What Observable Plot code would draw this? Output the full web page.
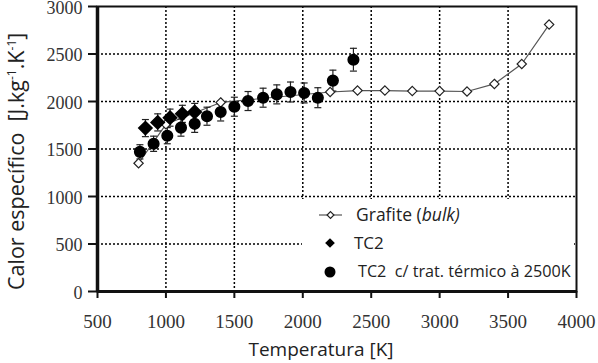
<!DOCTYPE html>
<html>
<head>
<meta charset="utf-8">
<script src="https://cdn.jsdelivr.net/npm/d3@7"></script>
<script src="https://cdn.jsdelivr.net/npm/@observablehq/plot@0.6"></script>
<style>
  html, body { margin: 0; padding: 0; background: #fff; }
  #chart svg { display: block; }
</style>
</head>
<body>
<div id="chart"></div>
<script>
// Grafite (bulk): open diamonds joined by a line
const tGrafite = [800, 1000, 1400, 2200, 2400, 2600, 2800, 3000, 3200, 3400, 3600, 3800];
const cpGrafite = [1350, 1760, 1990, 2100, 2115, 2115, 2110, 2110, 2105, 2185, 2395, 2810];

// TC2: filled diamonds with error bars
const tTC2 = [850, 940, 1030, 1120, 1210];
const cpTC2 = [1720, 1780, 1830, 1870, 1890];
const errTC2 = [90, 90, 90, 90, 90];

// TC2 heat treated at 2500 K: filled circles with error bars
const tTT = [810, 910, 1010, 1110, 1210, 1300, 1400, 1500, 1600, 1710, 1810, 1910, 2010, 2110, 2220, 2370];
const cpTT = [1470, 1555, 1640, 1725, 1765, 1845, 1890, 1945, 2005, 2040, 2075, 2100, 2090, 2040, 2220, 2440];
const errTT = [75, 80, 85, 90, 90, 95, 95, 100, 100, 100, 100, 105, 105, 105, 110, 120];

const xTicks = [500, 1000, 1500, 2000, 2500, 3000, 3500, 4000];
const yTicks = [0, 500, 1000, 1500, 2000, 2500, 3000];
const xGrid = [1000, 1500, 2000, 2500, 3000, 3500];
const yGrid = [500, 1000, 1500, 2000, 2500];

const grafite = tGrafite.map((t, i) => ({t, cp: cpGrafite[i]}));
const tc2 = tTC2.map((t, i) => ({t, cp: cpTC2[i], lo: cpTC2[i] - errTC2[i], hi: cpTC2[i] + errTC2[i]}));
const tt = tTT.map((t, i) => ({t, cp: cpTT[i], lo: cpTT[i] - errTT[i], hi: cpTT[i] + errTT[i]}));

// short horizontal stroke used as error-bar cap
const cap = {draw(ctx) { ctx.moveTo(-3.5, 0); ctx.lineTo(3.5, 0); }};

const serif = "Liberation Serif";
const sans = "'Open Sans', 'Noto Sans', sans-serif";

const plot = Plot.plot({
  width: 598,
  height: 363,
  marginLeft: 97,
  marginRight: 22,
  marginTop: 6,
  marginBottom: 72,
  style: {background: "#fff"},
  x: {domain: [500, 4000]},
  y: {domain: [0, 3000]},
  marks: [
    Plot.gridX(xGrid, {stroke: "#000", strokeOpacity: 1, strokeWidth: 1.5, strokeDasharray: "2,2"}),
    Plot.gridY(yGrid, {stroke: "#000", strokeOpacity: 1, strokeWidth: 1.5, strokeDasharray: "2,2"}),
    // tick marks only; numbers are drawn below in a serif face
    Plot.axisX({ticks: xTicks, tickSize: 7, label: null, text: null, stroke: "#111", strokeWidth: 2}),
    Plot.axisY({ticks: yTicks, tickSize: 9, label: null, text: null, stroke: "#111", strokeWidth: 2}),
    Plot.text(xTicks, {x: d => d, y: 0, dy: 30, text: d => String(d), fontFamily: serif, fontSize: 19, fill: "#333",
      textAnchor: "middle", lineAnchor: "middle", clip: false}),
    Plot.text(yTicks, {x: 500, y: d => d, dx: -15, dy: 1.5, text: d => String(d), fontFamily: serif, fontSize: 18, fill: "#333",
      textAnchor: "end", lineAnchor: "middle", clip: false}),
    // Grafite line
    Plot.line(grafite, {x: "t", y: "cp", stroke: "#555", strokeWidth: 1.2}),
    // error bars
    Plot.ruleX(tc2, {x: "t", y1: "lo", y2: "hi", stroke: "#222", strokeWidth: 1.2}),
    Plot.dot(tc2, {x: "t", y: "lo", symbol: cap, stroke: "#222", strokeWidth: 1.2, r: 3}),
    Plot.dot(tc2, {x: "t", y: "hi", symbol: cap, stroke: "#222", strokeWidth: 1.2, r: 3}),
    Plot.ruleX(tt, {x: "t", y1: "lo", y2: "hi", stroke: "#222", strokeWidth: 1.2}),
    Plot.dot(tt, {x: "t", y: "lo", symbol: cap, stroke: "#222", strokeWidth: 1.2, r: 3}),
    Plot.dot(tt, {x: "t", y: "hi", symbol: cap, stroke: "#222", strokeWidth: 1.2, r: 3}),
    // markers
    Plot.dot(grafite, {x: "t", y: "cp", symbol: "diamond2", r: 4.2, fill: "#fff", stroke: "#222", strokeWidth: 1.2}),
    Plot.dot(tc2, {x: "t", y: "cp", symbol: "diamond2", r: 6, fill: "#000", stroke: "#000"}),
    Plot.dot(tt, {x: "t", y: "cp", symbol: "circle", r: 5.3, fill: "#000", stroke: "#000"}),
    // frame: thin top/right, heavy left/bottom
    Plot.frame({stroke: "#111", strokeWidth: 2}),
    Plot.ruleX([500], {stroke: "#111", strokeWidth: 3.5}),
    Plot.ruleY([0], {stroke: "#111", strokeWidth: 3})
  ]
});

document.getElementById("chart").appendChild(plot);

const svg = d3.select(plot);

// legend box and entries
const lg = svg.append("g").attr("text-anchor", "start");
lg.append("rect").attr("x", 302).attr("y", 199).attr("width", 272).attr("height", 90).attr("fill", "#fff");
lg.append("line").attr("x1", 319).attr("x2", 342).attr("y1", 215).attr("y2", 215).attr("stroke", "#555").attr("stroke-width", 1.2);
lg.append("path").attr("d", d3.symbol(d3.symbolDiamond2, 30)()).attr("transform", "translate(330.5,215)")
  .attr("fill", "#fff").attr("stroke", "#222").attr("stroke-width", 1.2);
lg.append("path").attr("d", d3.symbol(d3.symbolDiamond2, 60)()).attr("transform", "translate(330,243)").attr("fill", "#000");
lg.append("circle").attr("cx", 330).attr("cy", 272).attr("r", 5.5).attr("fill", "#000");

const t1 = lg.append("text").attr("x", 356).attr("y", 221).attr("font-family", sans).attr("font-size", 17.5).attr("fill", "#222");
t1.append("tspan").text("Grafite (");
t1.append("tspan").attr("font-style", "italic").text("bulk)");
lg.append("text").attr("x", 354).attr("y", 249).attr("font-family", sans).attr("font-size", 17).attr("fill", "#222").text("TC2");
lg.append("text").attr("x", 358).attr("y", 277).attr("font-family", sans).attr("font-size", 16.2).attr("fill", "#222")
  .attr("xml:space", "preserve").text("TC2  c/ trat. térmico à 2500K");

// axis titles
svg.append("text").attr("x", 321).attr("y", 356).attr("text-anchor", "middle")
  .attr("font-family", sans).attr("font-size", 19).attr("fill", "#222").text("Temperatura [K]");

const yt = svg.append("text").attr("transform", "translate(24,290) rotate(-90)").attr("text-anchor", "start")
  .attr("font-family", sans).attr("font-size", 21.5).attr("fill", "#222").attr("xml:space", "preserve");
yt.append("tspan").text("Calor específico  [J.kg");
yt.append("tspan").attr("font-size", 12).attr("dy", -8).text("-1");
yt.append("tspan").attr("dy", 8).text(".K");
yt.append("tspan").attr("font-size", 12).attr("dy", -8).text("-1");
yt.append("tspan").attr("dy", 8).text("]");
</script>
</body>
</html>
